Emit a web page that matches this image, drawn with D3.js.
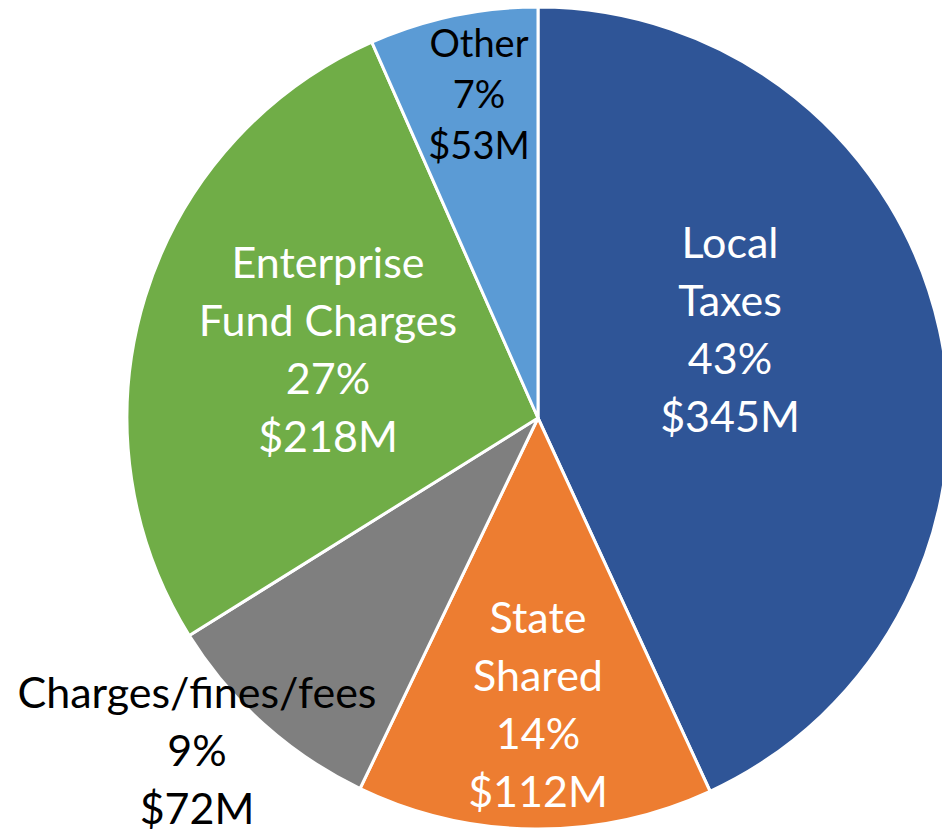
<!DOCTYPE html>
<html>
<head>
<meta charset="utf-8">
<script src="https://cdn.jsdelivr.net/npm/d3@7"></script>
<style>
  body { margin: 0; background: #fff; }
  svg { display: block; }
  .lbl { font-family: Lato, "Open Sans", sans-serif; }
</style>
</head>
<body>
<div id="chart"></div>
<script>
// revenue sources (millions)
const categories = ["Local Taxes", "State Shared", "Charges/fines/fees", "Enterprise Fund Charges", "Other"];
const values = [345, 112, 72, 218, 53];
const percents = ["43%", "14%", "9%", "27%", "7%"];
const labelLines = [
  ["Local", "Taxes"],
  ["State", "Shared"],
  ["Charges/fines/fees"],
  ["Enterprise", "Fund Charges"],
  ["Other"]
];

const colors = ["#2F5597", "#ED7D31", "#7F7F7F", "#70AD47", "#5B9BD5"];
const textColors = ["#fff", "#fff", "#000", "#fff", "#000"];

// label anchor: [x, first baseline, line step, font size]
const labelLayout = [
  [730, 258, 58, 43],
  [538, 633, 58, 43],
  [197, 708, 58, 43],
  [328, 278, 58, 43],
  [479, 57, 51, 38]
];

const width = 942, height = 832;
const cx = 538, cy = 418, radius = 411;

const svg = d3.select("#chart").append("svg")
  .attr("width", width)
  .attr("height", height);

const data = categories.map((c, i) => ({ name: c, value: values[i], i: i }));

const pie = d3.pie().value(d => d.value).sort(null);
const arc = d3.arc().innerRadius(0).outerRadius(radius);

const g = svg.append("g").attr("transform", "translate(" + cx + "," + cy + ")");

g.selectAll("path")
  .data(pie(data))
  .join("path")
  .attr("d", arc)
  .attr("fill", d => colors[d.data.i])
  .attr("stroke", "#fff")
  .attr("stroke-width", 3)
  .attr("stroke-linejoin", "round");

// data labels
data.forEach((d, i) => {
  const [x, y0, step, fs] = labelLayout[i];
  const lines = labelLines[i].concat([percents[i], "$" + values[i] + "M"]);
  const t = svg.append("text")
    .attr("class", "lbl")
    .attr("text-anchor", "middle")
    .attr("fill", textColors[i])
    .style("font-size", fs + "px");
  lines.forEach((s, k) => {
    t.append("tspan").attr("x", x).attr("y", y0 + k * step).text(s);
  });
});
</script>
</body>
</html>
